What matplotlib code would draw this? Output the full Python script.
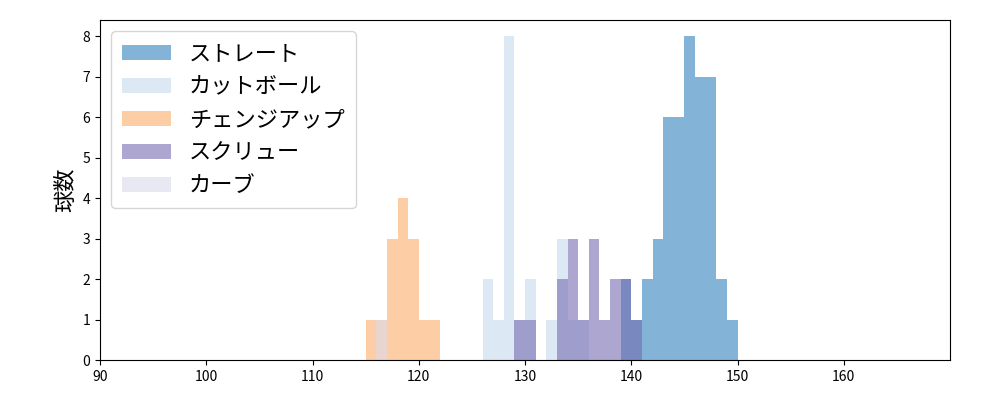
import matplotlib
matplotlib.use("Agg")
import matplotlib.pyplot as plt
import numpy as np

plt.rcParams['font.family'] = ['Noto Sans CJK JP', 'DejaVu Sans']

names = ['ストレート', 'カットボール', 'チェンジアップ', 'スクリュー', 'カーブ']
colors = ['#3182bd', '#c6dbef', '#fdae6b', '#756bb1', '#dadaeb']
straight_bins = [139, 140, 141, 142, 143, 144, 145, 146, 147, 148, 149]
straight_cnt = [2, 1, 2, 3, 6, 6, 8, 7, 7, 2, 1]
cut_bins = [126, 127, 128, 129, 130, 132, 133, 134, 135]
cut_cnt = [2, 1, 8, 1, 2, 1, 3, 1, 1]
change_bins = [115, 116, 117, 118, 119, 120, 121]
change_cnt = [1, 1, 3, 4, 3, 1, 1]
screw_bins = [129, 130, 133, 134, 135, 136, 137, 138, 139, 140]
screw_cnt = [1, 1, 2, 3, 1, 3, 1, 2, 2, 1]
curve_bins = [116]
curve_cnt = [1]

fig, ax = plt.subplots(figsize=(10, 4), dpi=100)
edges = np.arange(90, 171, 1)
for (b, c), name, col in zip([(straight_bins, straight_cnt), (cut_bins, cut_cnt),
                              (change_bins, change_cnt), (screw_bins, screw_cnt),
                              (curve_bins, curve_cnt)], names, colors):
    ax.hist(np.array(b) + 0.5, bins=edges, weights=c, color=col, alpha=0.6, label=name)

ax.set_xlim(90, 170)
ax.set_ylim(0, 8.4)
ax.set_xticks(range(90, 170, 10))
ax.set_ylabel('球数', fontsize=16)
ax.legend(loc='upper left', fontsize=16, borderpad=0.5, labelspacing=0.45, handlelength=2.2)
fig.subplots_adjust(left=0.1, right=0.95, top=0.95, bottom=0.1)
fig.savefig('out.png')
